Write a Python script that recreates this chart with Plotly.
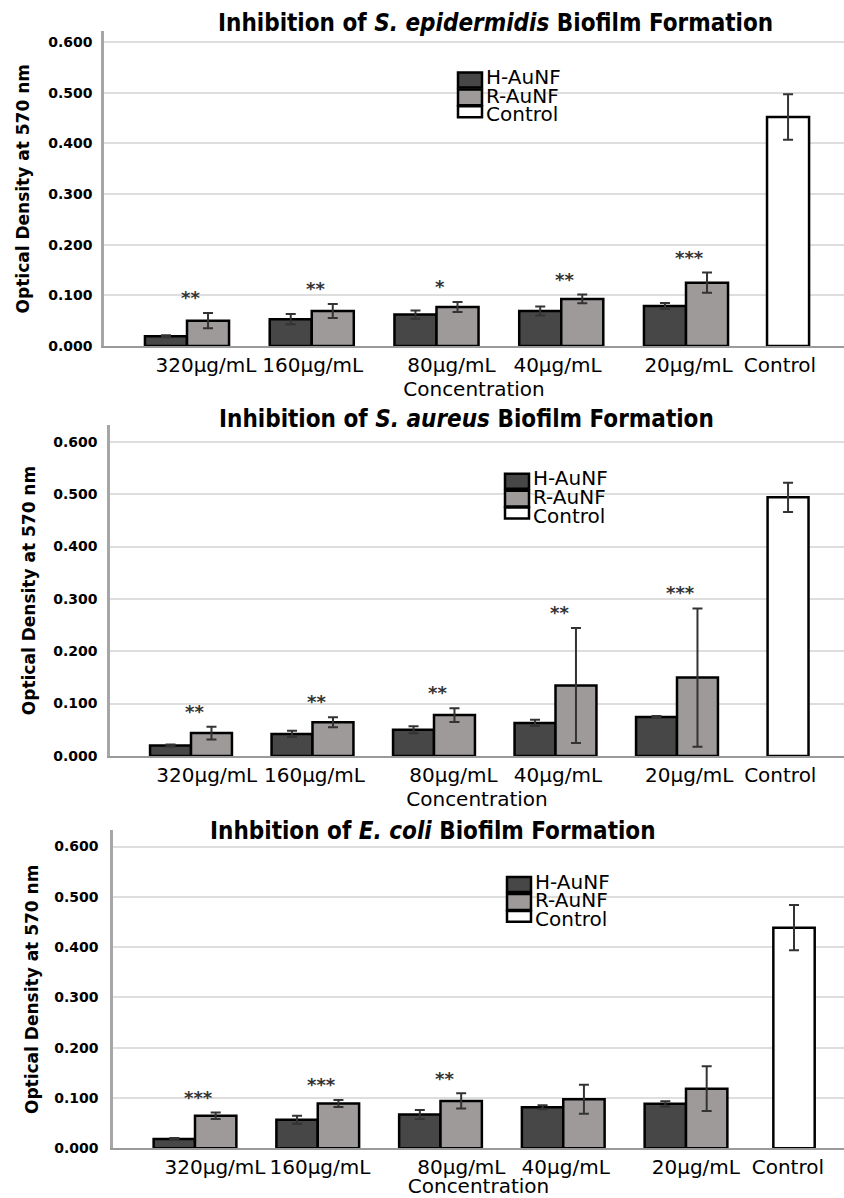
import plotly.graph_objects as go

# ---------------- data ----------------
categories = ["320µg/mL", "160µg/mL", "80µg/mL", "40µg/mL", "20µg/mL"]
control_label = "Control"
series_names = ["H-AuNF", "R-AuNF", "Control"]

epi_h = [0.019, 0.053, 0.062, 0.069, 0.079]
epi_h_err = [0.002, 0.010, 0.008, 0.009, 0.006]
epi_r = [0.050, 0.069, 0.077, 0.093, 0.125]
epi_r_err = [0.015, 0.014, 0.010, 0.0085, 0.020]
epi_ctrl = [0.452]
epi_ctrl_err = [0.045]
epi_sig = ["**", "**", "*", "**", "***"]

aur_h = [0.020, 0.042, 0.050, 0.063, 0.0745]
aur_h_err = [0.002, 0.006, 0.0067, 0.006, 0.002]
aur_r = [0.0436, 0.0644, 0.078, 0.1346, 0.1497]
aur_r_err = [0.012, 0.0095, 0.013, 0.110, 0.132]
aur_ctrl = [0.494]
aur_ctrl_err = [0.028]
aur_sig = ["**", "**", "**", "**", "***"]

coli_h = [0.0184, 0.0567, 0.0672, 0.0817, 0.0883]
coli_h_err = [0.002, 0.008, 0.009, 0.004, 0.005]
coli_r = [0.0645, 0.089, 0.0942, 0.0975, 0.1186]
coli_r_err = [0.0065, 0.007, 0.015, 0.029, 0.0445]
coli_ctrl = [0.4387]
coli_ctrl_err = [0.045]
coli_sig = ["***", "***", "**", "", ""]

y_ticks = [0.0, 0.1, 0.2, 0.3, 0.4, 0.5, 0.6]

titles = [
    "Inhibition of <i>S. epidermidis</i> Biofilm Formation",
    "Inhibition of <i>S. aureus</i> Biofilm Formation",
    "Inhbition of <i>E. coli</i> Biofilm Formation",
]

# ---------------- layout geometry (pixels) ----------------
W, H = 844, 1198
FONT = "DejaVu Sans"
TFONT = "DejaVu Sans Condensed, DejaVu Sans"
C_H = "#474747"
C_R = "#9e9a9a"
C_C = "#ffffff"
BAR_W = 0.337

panels = [
    dict(h=epi_h, he=epi_h_err, r=epi_r, re=epi_r_err, c=epi_ctrl, ce=epi_ctrl_err, sig=epi_sig,
         axis_left=104, origin=187, unit=124.75, ctrl_slot=4.818, y0=348.3, ytop=31.7, ymax=0.621,
         label_shift=[0.152, 0.008, 0.12, -0.03, 0.02, -0.065],
         title_xy=(495, 23), leg=(458, 73), ystand=15, ypad=6),
    dict(h=aur_h, he=aur_h_err, r=aur_r, re=aur_r_err, c=aur_ctrl, ce=aur_ctrl_err, sig=aur_sig,
         axis_left=110, origin=191, unit=121.5, ctrl_slot=4.914, y0=761, ytop=428, ymax=0.632,
         label_shift=[0.13, 0.016, 0.16, 0.02, 0.10, -0.064],
         title_xy=(466, 421.5), leg=(505, 477), ystand=14, ypad=7),
    dict(h=coli_h, he=coli_h_err, r=coli_r, re=coli_r_err, c=coli_ctrl, ce=coli_ctrl_err, sig=coli_sig,
         axis_left=113, origin=195, unit=122.75, ctrl_slot=4.88, y0=1156, ytop=836, ymax=0.632,
         label_shift=[0.163, 0.018, 0.17, 0.02, 0.08, -0.05],
         title_xy=(433, 837), leg=(507, 883), ystand=12, ypad=9),
]


def px(x):
    return x / W


def py(y):
    return 1 - y / H


fig = go.Figure()
layout = dict(
    width=W, height=H, margin=dict(l=0, r=0, t=0, b=0),
    paper_bgcolor="white", plot_bgcolor="white",
    barmode="overlay", showlegend=False,
    font=dict(family=FONT, color="black"),
)
annotations = []
shapes = []

for i, p in enumerate(panels):
    n = "" if i == 0 else str(i + 1)
    xa, ya = "x" + n, "y" + n
    slots = list(range(len(categories)))
    err_style = dict(type="data", color="#333333", thickness=2, width=5)
    line_style = dict(color="black", width=2.5)
    fig.add_trace(go.Bar(x=slots, y=p["h"], width=BAR_W, offset=-BAR_W, name=series_names[0],
                         marker=dict(color=C_H, line=line_style),
                         error_y=dict(array=p["he"], **err_style), xaxis=xa, yaxis=ya))
    fig.add_trace(go.Bar(x=slots, y=p["r"], width=BAR_W, offset=0, name=series_names[1],
                         marker=dict(color=C_R, line=line_style),
                         error_y=dict(array=p["re"], **err_style), xaxis=xa, yaxis=ya))
    fig.add_trace(go.Bar(x=[p["ctrl_slot"]], y=p["c"], width=BAR_W, offset=-BAR_W / 2,
                         name=series_names[2],
                         marker=dict(color=C_C, line=line_style),
                         error_y=dict(array=p["ce"], **err_style), xaxis=xa, yaxis=ya))

    x_lo = (p["axis_left"] - p["origin"]) / p["unit"]
    x_hi = (W - p["origin"]) / p["unit"]
    all_slots = slots + [p["ctrl_slot"]]
    tickvals = [s + d for s, d in zip(all_slots, p["label_shift"])]
    layout["xaxis" + n] = dict(
        domain=[px(p["axis_left"]), 1], range=[x_lo, x_hi], anchor=ya,
        tickvals=tickvals, ticktext=categories + [control_label],
        tickfont=dict(family=FONT, size=20, color="black"), ticks="", ticklabelstandoff=0,
        showgrid=False, zeroline=False, showline=True, linecolor="#9a9a9a", linewidth=2,
        title=dict(text="Concentration", font=dict(family=FONT, size=20, color="black"), standoff=0),
        fixedrange=True,
    )
    layout["yaxis" + n] = dict(
        domain=[py(p["y0"]), py(p["ytop"])], range=[0, p["ymax"]], anchor=xa,
        tickvals=y_ticks, tickformat=".3f",
        tickfont=dict(family=FONT, size=14, color="black", weight="bold"),
        ticks="", ticklabelstandoff=p["ypad"],
        showgrid=True, gridcolor="#dedede", gridwidth=2, zeroline=False,
        showline=True, linecolor="#a6a6a6", linewidth=2.5,
        title=dict(text="Optical Density at 570 nm",
                   font=dict(family=FONT, size=17, color="black", weight="bold"),
                   standoff=p["ystand"]),
        fixedrange=True,
    )

    # significance stars above R-AuNF error bars
    for s, (yv, ev, txt) in enumerate(zip(p["r"], p["re"], p["sig"])):
        if txt:
            annotations.append(dict(x=s + 0.03, y=yv + ev + 0.03, xref=xa, yref=ya, text=txt,
                                    showarrow=False, yanchor="middle", xanchor="center",
                                    font=dict(family=FONT, size=18, color="#333333", weight="bold")))

    # title
    tx, ty = p["title_xy"]
    annotations.append(dict(x=px(tx), y=py(ty), xref="paper", yref="paper", text="<b>" + titles[i] + "</b>",
                            showarrow=False, xanchor="center", yanchor="middle",
                            font=dict(family=TFONT, size=24, color="black")))

    # legend (drawn)
    lx, ly = p["leg"]
    boxes = [(0, 15, C_H), (17, 33, C_R), (34, 45, C_C)]
    text_rows = [4.5, 23.3, 42]
    for (b0, b1, col), tr, name in zip(boxes, text_rows, series_names):
        shapes.append(dict(type="rect", xref="paper", yref="paper",
                           x0=px(lx), x1=px(lx + 24), y0=py(ly + b1), y1=py(ly + b0),
                           fillcolor=col, line=dict(color="black", width=2.5)))
        annotations.append(dict(x=px(lx + 26), y=py(ly + tr), xref="paper", yref="paper", text=name,
                                showarrow=False, xanchor="left", yanchor="middle",
                                font=dict(family=FONT, size=20, color="black")))

layout["annotations"] = annotations
layout["shapes"] = shapes
fig.update_layout(**layout)
fig.write_html("out.html")
